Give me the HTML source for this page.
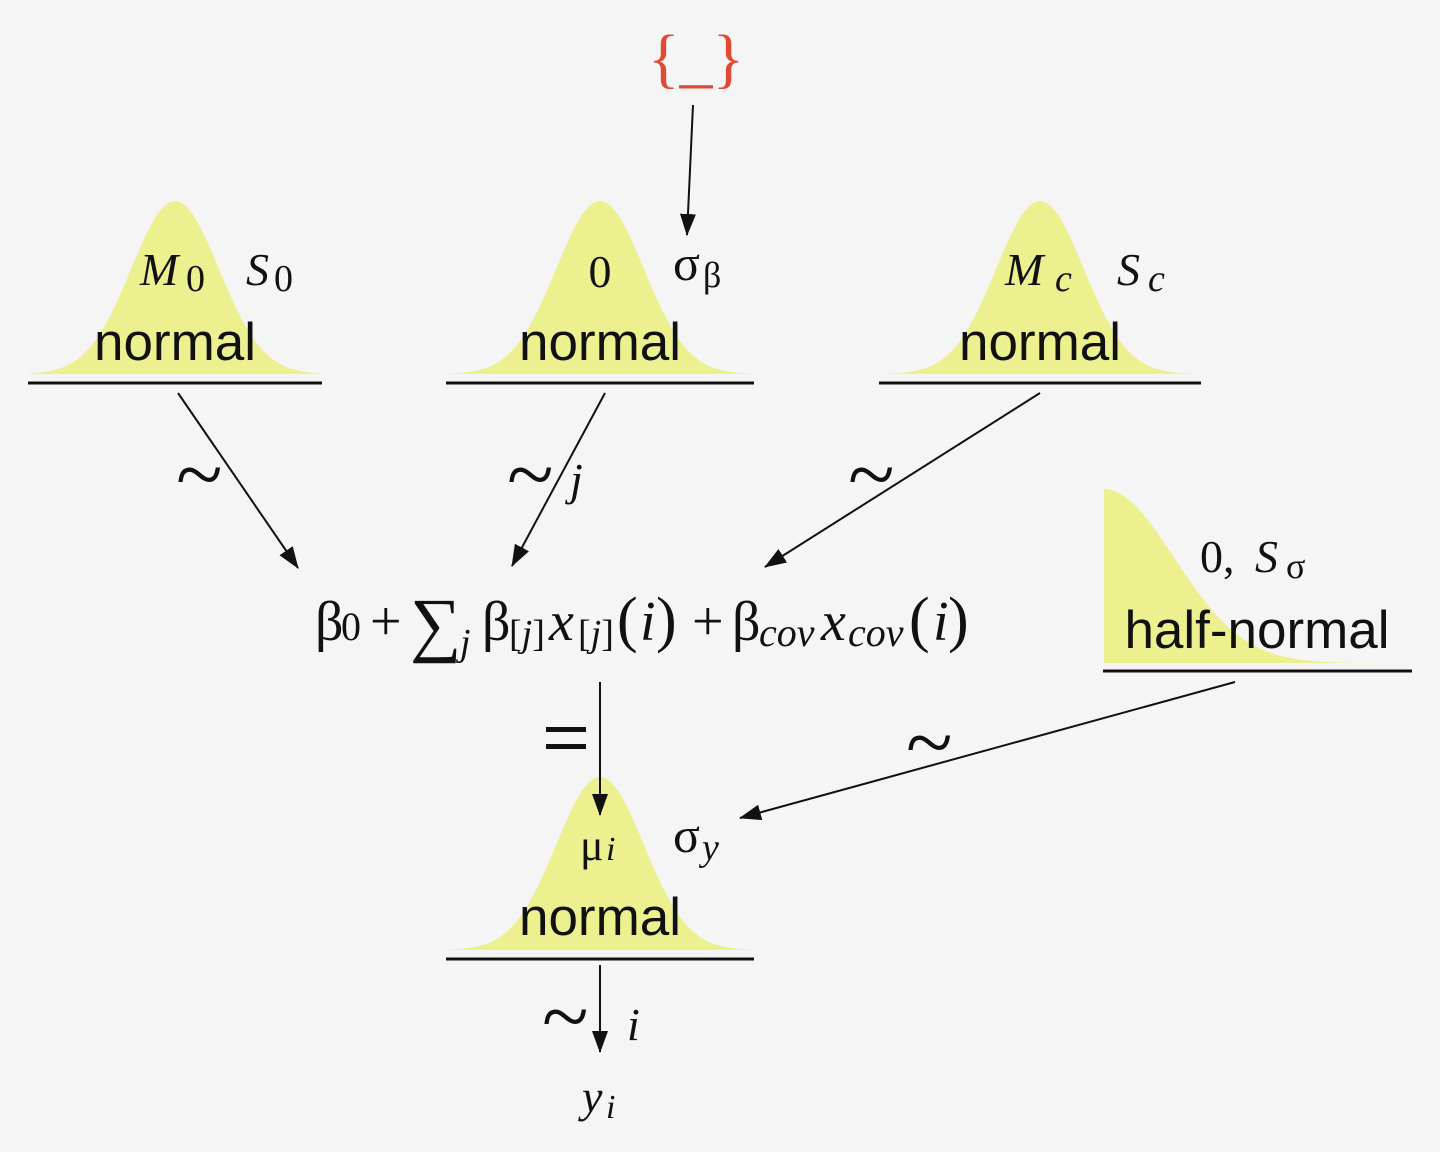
<!DOCTYPE html>
<html><head><meta charset="utf-8"><style>
html,body{margin:0;padding:0;background:#f5f5f5;}
svg{display:block;}
.n{font-family:"Liberation Sans",sans-serif;font-size:53px;fill:#111;}
.s{font-family:"Liberation Serif",serif;fill:#111;}
.i{font-style:italic;}
</style></head><body>
<svg id="g" width="1440" height="1152" viewBox="0 0 1440 1152" xmlns="http://www.w3.org/2000/svg">
<defs>
<marker id="ah" markerWidth="22" markerHeight="22" refX="21" refY="8" orient="auto" markerUnits="userSpaceOnUse" viewBox="0 0 22 16"><path d="M0,0 L22,8 L0,16 z" fill="#111"/></marker></defs>
<g id="curves"></g>
<g stroke="#111" stroke-width="3">
<line x1="28" y1="383" x2="322" y2="383"/>
<line x1="446" y1="383" x2="754" y2="383"/>
<line x1="879" y1="383" x2="1201" y2="383"/>
<line x1="446" y1="959" x2="754" y2="959"/>
<line x1="1103" y1="671" x2="1412" y2="671"/>
</g>
<g stroke="#111" stroke-width="2" fill="none" marker-end="url(#ah)">
<line x1="178" y1="393" x2="298" y2="568"/>
<line x1="605" y1="393" x2="512" y2="566"/>
<line x1="1040" y1="393" x2="765" y2="567"/>
<line x1="693" y1="105" x2="687" y2="235"/>
<line x1="600" y1="682" x2="600" y2="815"/>
<line x1="1235" y1="682" x2="740" y2="818"/>
<line x1="600" y1="965" x2="600" y2="1052"/>
</g>
<text x="696" y="80" text-anchor="middle" class="s" font-size="66" style="fill:#e04a33">{_}</text>
<text x="175" y="360" text-anchor="middle" class="n">normal</text>
<text x="600" y="360" text-anchor="middle" class="n">normal</text>
<text x="1040" y="360" text-anchor="middle" class="n">normal</text>
<text x="600" y="935" text-anchor="middle" class="n">normal</text>
<text x="1257" y="648" text-anchor="middle" class="n">half-normal</text>
<text x="140" y="285" class="s i" font-size="46">M</text><text x="186" y="291" class="s" font-size="38">0</text>
<text x="246" y="285" class="s i" font-size="46">S</text><text x="274" y="291" class="s" font-size="38">0</text>
<text x="600" y="287" text-anchor="middle" class="s" font-size="46">0</text>
<text x="673" y="280" class="s" font-size="50">σ</text><text x="703" y="287" class="s" font-size="36">β</text>
<text x="1005" y="285" class="s i" font-size="46">M</text><text x="1055" y="291" class="s i" font-size="38">c</text>
<text x="1117" y="285" class="s i" font-size="46">S</text><text x="1148" y="291" class="s i" font-size="38">c</text>
<text x="1200" y="572" class="s" font-size="46">0,</text><text x="1255" y="572" class="s i" font-size="46">S</text><text x="1286" y="578" class="s" font-size="36">σ</text>
<text x="580" y="860" class="s" font-size="44">μ</text><text x="606" y="860" class="s i" font-size="34">i</text>
<text x="673" y="852" class="s" font-size="50">σ</text><text x="702" y="860" class="s i" font-size="38">y</text>
<text x="582" y="1112" class="s i" font-size="46">y</text><text x="606" y="1118" class="s i" font-size="34">i</text>
<g class="s" font-size="56">
<text x="315" y="640">β</text><text x="341" y="640" font-size="40">0</text>
<text x="370" y="640">+</text>
<text x="410" y="648" font-size="72">∑</text>
<text x="460" y="655" class="i" font-size="38">j</text>
<text x="482" y="640">β</text>
<text x="509" y="646" font-size="38">[<tspan class="i">j</tspan>]</text>
<text x="549" y="640" class="i">x</text>
<text x="578" y="646" font-size="38">[<tspan class="i">j</tspan>]</text>
<text x="617" y="640" font-size="62">(</text>
<text x="640" y="640" class="i">i</text>
<text x="656" y="640" font-size="62">)</text>
<text x="692" y="640">+</text>
<text x="732" y="640">β</text>
<text x="759" y="646" class="i" font-size="40">cov</text>
<text x="821" y="640" class="i">x</text>
<text x="848" y="646" class="i" font-size="40">cov</text>
<text x="909" y="640" font-size="62">(</text>
<text x="933" y="640" class="i">i</text>
<text x="948" y="640" font-size="62">)</text>
</g>
<g class="s" font-size="86">
<text x="176" y="503">~</text>
<text x="507" y="503">~</text>
<text x="848" y="503">~</text>
<text x="906" y="771">~</text>
<text x="542" y="1045">~</text>
</g>
<rect x="546" y="727" width="40" height="5" fill="#111"/>
<rect x="546" y="744" width="40" height="5" fill="#111"/>
<text x="570" y="495" class="s i" font-size="46">j</text>
<text x="627" y="1040" class="s i" font-size="46">i</text>
</svg>
<script>
(function(){
var ns="http://www.w3.org/2000/svg",g=document.getElementById("curves");
function bell(cx,base,peak,sig,x0,x1){var d="M"+x0+","+base;for(var x=x0;x<=x1;x+=2){var y=base-(base-peak)*Math.exp(-Math.pow((x-cx)/sig,2)/2);d+=" L"+x+","+y.toFixed(1);}d+=" L"+x1+","+base+" Z";var p=document.createElementNS(ns,"path");p.setAttribute("d",d);p.setAttribute("fill","#ecf08f");g.appendChild(p);}
bell(175,374,201,44,30,320);
bell(600,374,201,44,448,752);
bell(1040,374,201,44,881,1199);
bell(600,950,777,44,448,752);
bell(1104,663,489,70,1104,1410);
})();
</script>
</body></html>
